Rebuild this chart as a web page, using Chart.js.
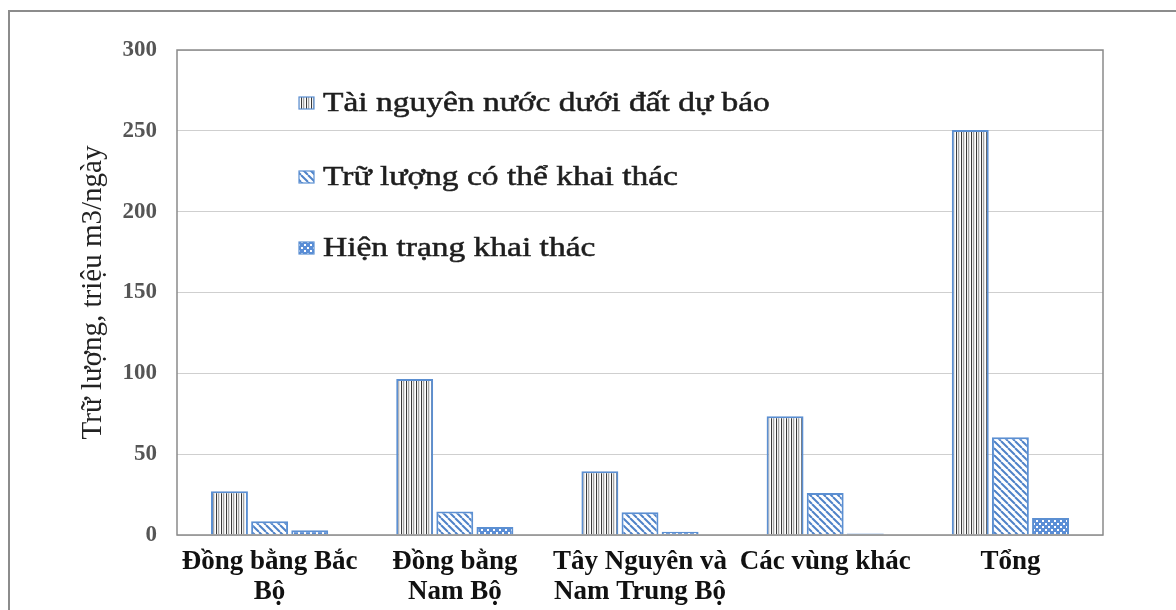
<!DOCTYPE html>
<html lang="vi">
<head>
<meta charset="utf-8">
<title>Trữ lượng nước dưới đất</title>
<script src="https://cdn.jsdelivr.net/npm/chart.js@4.4.1/dist/chart.umd.min.js"></script>
<style>
    html, body { margin: 0; padding: 0; background: #fff; overflow: hidden; }
    #wrap { position: relative; width: 1176px; height: 610px; }
    #frame {
        position: absolute; left: 8px; top: 10px; width: 1200px; height: 640px;
        border: 2px solid #8c8c8c; box-sizing: border-box;
    }
    #chart { position: absolute; left: 0; top: 0; }
</style>
</head>
<body>
<div id="wrap">
    <div id="frame"></div>
    <canvas id="chart" width="1176" height="610"></canvas>
</div>
<script>
// Data
const regions = [
    ['Đồng bằng Bắc', 'Bộ'],
    ['Đồng bằng', 'Nam Bộ'],
    ['Tây Nguyên và', 'Nam Trung Bộ'],
    'Các vùng khác',
    'Tổng'
];
const forecastResources = [27, 96.5, 39.5, 73.5, 250.5];
const exploitableReserves = [8.5, 14.5, 14, 26, 60.5];
const currentExploitation = [3, 5, 2, 1, 10.5];
const yTicks = [0, 50, 100, 150, 200, 250, 300];

const seriesNames = [
    'Tài nguyên nước dưới đất dự báo',
    'Trữ lượng có thể khai thác',
    'Hiện trạng khai thác'
];

const serif = "'Liberation Serif', 'Times New Roman', serif";
const barBlue = '#5b8fd2';

// Hatch patterns like the Excel fills
function makePattern(kind) {
    const c = document.createElement('canvas');
    const g = c.getContext('2d');
    if (kind === 'vertical') {
        c.width = 5; c.height = 5;
        const cols = ['#ffffff', '#3a3a3a', '#f2f2f2', '#a6a6a6', '#e4e4e4'];
        cols.forEach((col, i) => { g.fillStyle = col; g.fillRect(i, 0, 1, 5); });
    } else if (kind === 'diagonal') {
        c.width = 7; c.height = 7;
        g.fillStyle = '#ffffff';
        g.fillRect(0, 0, 7, 7);
        g.strokeStyle = '#4f82c8';
        g.lineWidth = 2;
        [-7, 0, 7].forEach(o => {
            g.beginPath();
            g.moveTo(o, 0);
            g.lineTo(o + 7, 7);
            g.stroke();
        });
    } else {
        c.width = 6; c.height = 6;
        g.fillStyle = '#5b8ed6';
        g.fillRect(0, 0, 6, 6);
        g.fillStyle = '#ffffff';
        g.fillRect(1, 1, 2, 2);
        g.fillRect(4, 4, 2, 2);
    }
    return g.createPattern(c, 'repeat');
}

// Frame around the plot area
const plotFrame = {
    id: 'plotFrame',
    afterDraw(chart) {
        const a = chart.chartArea;
        const ctx = chart.ctx;
        ctx.save();
        ctx.strokeStyle = '#8a8a8a';
        ctx.lineWidth = 1.5;
        ctx.strokeRect(a.left, a.top, a.right - a.left, a.bottom - a.top);
        ctx.restore();
    }
};

// Legend drawn inside the plot, stacked, like the reference
const insideLegend = {
    id: 'insideLegend',
    afterDraw(chart) {
        const a = chart.chartArea;
        const ctx = chart.ctx;
        const rowsY = [53, 127, 198];
        ctx.save();
        chart.data.datasets.forEach((ds, i) => {
            const y = a.top + rowsY[i];
            const bx = a.left + 122;
            ctx.fillStyle = ds.backgroundColor;
            ctx.fillRect(bx, y - 6, 15, 12);
            ctx.strokeStyle = barBlue;
            ctx.lineWidth = 1.2;
            ctx.strokeRect(bx, y - 6, 15, 12);

            ctx.save();
            ctx.translate(a.left + 146, y);
            ctx.scale(1.24, 1);
            ctx.fillStyle = '#1e1e1e';
            ctx.strokeStyle = '#1e1e1e';
            ctx.lineWidth = 0.5;
            ctx.font = '27px ' + serif;
            ctx.textBaseline = 'middle';
            ctx.fillText(ds.label, 0, 1);
            ctx.strokeText(ds.label, 0, 1);
            ctx.restore();
        });
        ctx.restore();
    }
};

const ctx = document.getElementById('chart').getContext('2d');

const barStyle = {
    borderColor: barBlue,
    borderWidth: 2,
    barPercentage: 0.92,
    categoryPercentage: 0.65
};

new Chart(ctx, {
    type: 'bar',
    data: {
        labels: regions,
        datasets: [
            Object.assign({ label: seriesNames[0], data: forecastResources, backgroundColor: makePattern('vertical') }, barStyle),
            Object.assign({ label: seriesNames[1], data: exploitableReserves, backgroundColor: makePattern('diagonal') }, barStyle),
            Object.assign({ label: seriesNames[2], data: currentExploitation, backgroundColor: makePattern('check') }, barStyle)
        ]
    },
    options: {
        responsive: false,
        animation: false,
        layout: {
            padding: { top: 50, right: 73, bottom: 0, left: 72 }
        },
        plugins: {
            legend: { display: false },
            tooltip: { enabled: false }
        },
        scales: {
            x: {
                grid: { display: false, drawTicks: false },
                border: { display: false },
                ticks: {
                    color: '#111',
                    padding: 12,
                    maxRotation: 0,
                    autoSkip: false,
                    font: { family: serif, size: 27, weight: 'bold', lineHeight: 1.1 }
                },
                afterFit(scale) { scale.height = 75; }
            },
            y: {
                min: 0,
                max: 300,
                afterBuildTicks(scale) {
                    scale.ticks = yTicks.map(v => ({ value: v }));
                },
                grid: { color: '#cfcfcf', lineWidth: 1, drawTicks: false },
                border: { display: false },
                ticks: {
                    color: '#555',
                    padding: 20,
                    font: { family: serif, size: 23, weight: 'bold' }
                },
                title: {
                    display: true,
                    text: 'Trữ lượng, triệu m3/ngày',
                    color: '#222',
                    font: { family: serif, size: 29 }
                },
                afterFit(scale) { scale.width = 105; }
            }
        }
    },
    plugins: [plotFrame, insideLegend]
});
</script>
</body>
</html>
